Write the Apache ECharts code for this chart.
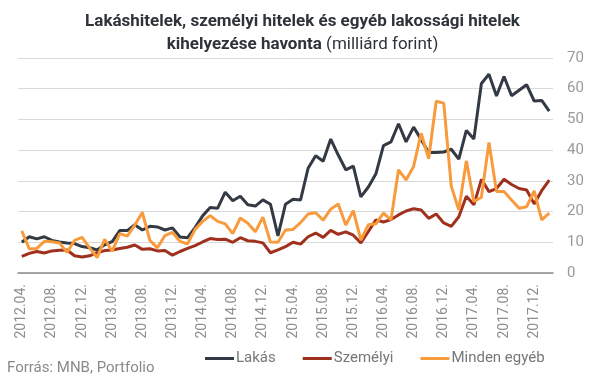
<!DOCTYPE html>
<html>
<head>
<meta charset="utf-8">
<script src="https://cdn.jsdelivr.net/npm/echarts@6/dist/echarts.min.js"></script>
<style>
html,body{margin:0;padding:0;background:#fff;}
#chart{width:605px;height:379px;}
</style>
</head>
<body>
<div id="chart"></div>
<script>
// Monthly categories: 2012.04. ... 2018.02.
var startYear = 2012, startMonth = 4, monthCount = 71;
var categories = [];
for (var k = 0; k < monthCount; k++) {
  var m = startMonth - 1 + k;
  var y = startYear + Math.floor(m / 12);
  var mm = (m % 12) + 1;
  categories.push(y + '.' + (mm < 10 ? '0' + mm : mm) + '.');
}

var seriesNames = ['Lakás', 'Személyi', 'Minden egyéb'];

var lakas = [
  10.0, 11.8, 11.1, 11.8, 10.6, 10.1, 9.8, 9.6, 8.6, 8.2,
  7.5, 9.2, 10.2, 13.8, 13.8, 15.7, 14.0, 15.2, 15.0, 14.0,
  14.7, 11.7, 11.5, 14.8, 18.6, 21.3, 21.1, 26.3, 23.5, 25.0,
  22.2, 21.8, 23.8, 22.4, 12.1, 22.4, 24.0, 23.8, 34.1, 38.2,
  36.4, 43.6, 38.4, 33.6, 34.8, 24.8, 28.0, 32.3, 41.5, 42.7,
  48.6, 42.7, 47.5, 43.5, 39.2, 39.2, 39.4, 40.3, 37.1, 46.4,
  43.6, 61.7, 64.7, 57.6, 64.0, 57.7, 59.5, 61.3, 56.0, 56.2,
  52.7
];

var szemelyi = [
  5.4, 6.4, 7.0, 6.5, 7.2, 7.4, 7.5, 5.6, 5.2, 5.6,
  6.6, 7.3, 7.5, 8.0, 8.4, 9.1, 7.7, 7.9, 7.2, 7.3,
  5.8, 7.0, 8.0, 8.9, 10.1, 11.2, 10.9, 11.0, 10.0, 11.5,
  10.5, 10.3, 9.8, 6.6, 7.5, 8.6, 10.0, 9.4, 11.8, 13.0,
  11.6, 13.9, 12.6, 13.4, 12.3, 9.8, 13.5, 17.3, 16.6, 17.4,
  18.9, 20.2, 20.9, 20.5, 17.8, 19.2, 16.3, 15.2, 18.3, 25.0,
  22.2, 30.5, 26.5, 27.5, 30.5, 28.8, 27.5, 27.0, 22.5, 26.8,
  30.2
];

var mindenEgyeb = [
  13.7, 7.8, 8.0, 10.3, 10.2, 9.8, 6.7, 10.6, 11.6, 8.2,
  5.0, 11.0, 7.1, 12.8, 12.0, 15.6, 19.7, 10.6, 8.2, 12.2,
  13.2, 10.3, 9.5, 14.2, 16.8, 18.7, 16.8, 16.0, 12.8, 17.9,
  16.2, 13.4, 18.2, 10.1, 10.0, 14.0, 14.2, 16.4, 19.2, 19.6,
  17.2, 20.8, 22.5, 15.6, 20.3, 10.7, 15.7, 16.0, 19.5, 17.3,
  33.6, 30.3, 34.7, 45.5, 37.2, 55.9, 55.3, 28.2, 20.5, 36.5,
  23.3, 24.7, 42.5, 26.5, 26.5, 23.8, 21.1, 21.6, 26.7, 17.3,
  19.5
];

var yTicks = [0, 10, 20, 30, 40, 50, 60, 70];

var colors = ['#333a44', '#a0301e', '#f89b3d'];
var FONT = 'Roboto, "Noto Sans", sans-serif';

var chart = echarts.init(document.getElementById('chart'), null, {renderer: 'canvas'});
chart.setOption({
  animation: false,
  backgroundColor: '#ffffff',
  title: [{
    left: 'center',
    top: 5,
    text: '{b|Lakáshitelek, személyi hitelek és egyéb lakossági hitelek}\n{b|kihelyezése havonta}{n| (milliárd forint)}',
    textStyle: {
      rich: {
        b: {fontFamily: FONT, fontWeight: 'bold', fontSize: 17, color: '#2e333a', lineHeight: 23},
        n: {fontFamily: FONT, fontWeight: 'normal', fontSize: 17, color: '#2e333a', lineHeight: 23}
      }
    }
  }, {
    left: 7,
    top: 361,
    padding: 0,
    text: 'Forrás: MNB, Portfolio',
    textStyle: {fontFamily: FONT, fontWeight: 'normal', fontSize: 15, color: '#8a8a8a'}
  }],
  legend: {
    left: 205,
    top: 351,
    padding: 0,
    itemWidth: 29,
    itemHeight: 3,
    itemGap: 27,
    icon: 'rect',
    textStyle: {fontFamily: FONT, fontSize: 15, color: '#777', padding: [0, 0, 0, -3]},
    data: seriesNames
  },
  grid: {left: 18, right: 52, top: 58, bottom: 106, containLabel: false},
  xAxis: {
    type: 'category',
    data: categories,
    boundaryGap: true,
    axisLine: {show: true, lineStyle: {color: '#8c8c8c', width: 1.5}},
    axisTick: {show: false},
    axisLabel: {
      interval: 3,
      rotate: 90,
      margin: 11,
      fontFamily: FONT,
      fontSize: 14,
      color: '#8e8e8e'
    },
    splitLine: {show: false}
  },
  yAxis: {
    type: 'value',
    position: 'right',
    min: yTicks[0],
    max: yTicks[yTicks.length - 1],
    interval: 10,
    axisLine: {show: false},
    axisTick: {show: false},
    axisLabel: {margin: 14, fontFamily: FONT, fontSize: 15, color: '#9a9a9a'},
    splitLine: {show: true, lineStyle: {color: '#d9d9d9', width: 1}}
  },
  series: [
    {name: seriesNames[0], type: 'line', data: lakas, symbol: 'none', color: colors[0],
     lineStyle: {width: 3, color: colors[0]}, itemStyle: {color: colors[0]}},
    {name: seriesNames[1], type: 'line', data: szemelyi, symbol: 'none', color: colors[1],
     lineStyle: {width: 3, color: colors[1]}, itemStyle: {color: colors[1]}},
    {name: seriesNames[2], type: 'line', data: mindenEgyeb, symbol: 'none', color: colors[2],
     lineStyle: {width: 3, color: colors[2]}, itemStyle: {color: colors[2]}}
  ]
});
</script>
</body>
</html>
